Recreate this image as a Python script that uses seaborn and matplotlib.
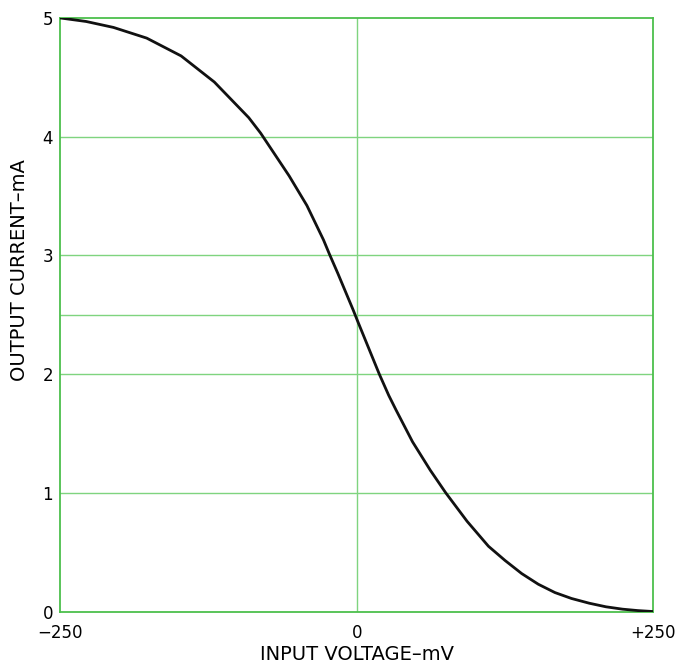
import pandas as pd
import matplotlib.pyplot as plt
import seaborn as sns

# values
voltage_mv = [-250, -228, -205, -177, -148, -120, -91, -81, -71, -57, -42, -28,
              -23, -16, -3, 1, 19, 27, 33, 47, 62, 75, 93, 111, 125, 139, 153,
              167, 181, 196, 210, 224, 237, 250]
current_ma = [5.0, 4.97, 4.92, 4.83, 4.68, 4.46, 4.16, 4.03, 3.88, 3.67, 3.42, 3.13,
              3.01, 2.85, 2.54, 2.44, 2.0, 1.82, 1.70, 1.43, 1.19, 1.0, 0.76, 0.55,
              0.43, 0.32, 0.23, 0.16, 0.11, 0.07, 0.04, 0.02, 0.008, 0.0]
x_ticks = [-250, 0, 250]
x_labels = ['\u2212250', '0', '+250']
y_ticks = [0, 1, 2, 3, 4, 5]
y_grid = [1, 2, 2.5, 3, 4]

df = pd.DataFrame({'Voltage': voltage_mv, 'Current': current_ma})

green = '#4cbf4c'
grid_green = '#7fd47f'
sns.set_style('white')
plt.rcParams['font.family'] = ['DejaVu Sans']

fig = plt.figure(figsize=(6.75, 6.64), dpi=100)
ax = fig.add_axes([0.089, 0.079, 0.879, 0.894])

for y in y_grid:
    ax.axhline(y, color=grid_green, lw=1.0, zorder=1)
ax.axvline(0, color=grid_green, lw=1.0, zorder=1)

sns.lineplot(data=df, x='Voltage', y='Current', color='#111111', lw=2.0, ax=ax, zorder=3)

ax.set_xlim(-250, 250)
ax.set_ylim(0, 5)
ax.set_xticks(x_ticks)
ax.set_xticklabels(x_labels, fontsize=12, color='black')
ax.set_yticks(y_ticks)
ax.set_yticklabels([str(v) for v in y_ticks], fontsize=12, color='black')
ax.tick_params(axis='x', length=0, pad=9)
ax.tick_params(axis='y', length=0, pad=5)
for s in ax.spines.values():
    s.set_color(green)
    s.set_linewidth(1.3)

ax.set_xlabel('INPUT VOLTAGE\u2013mV', fontsize=14, color='black', labelpad=2)
ax.set_ylabel('OUTPUT CURRENT\u2013mA', fontsize=14, color='black')
ax.yaxis.set_label_coords(-0.052, 0.575)

fig.savefig('out.png', dpi=100)
